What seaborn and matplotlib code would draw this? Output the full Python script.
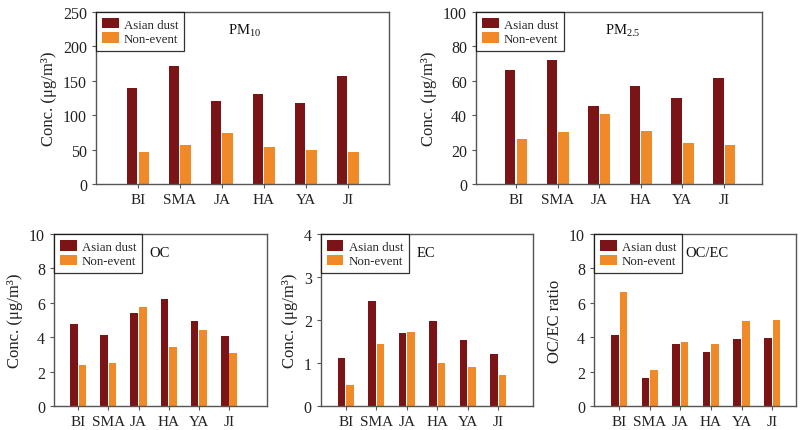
import matplotlib
matplotlib.use("Agg")
import matplotlib.pyplot as plt
import seaborn as sns
import pandas as pd

sites = ["BI", "SMA", "JA", "HA", "YA", "JI"]
series_names = ["Asian dust", "Non-event"]

pm10_dust = [140, 172, 120, 130, 117, 157]
pm10_non = [46, 56, 74, 53, 50, 46]
pm25_dust = [66, 72, 45.5, 57, 50, 61.5]
pm25_non = [26, 30, 40.5, 31, 23.5, 22.5]
oc_dust = [4.75, 4.12, 5.38, 6.25, 4.93, 4.06]
oc_non = [2.38, 2.5, 5.77, 3.43, 4.42, 3.1]
ec_dust = [1.12, 2.45, 1.70, 1.97, 1.54, 1.22]
ec_non = [0.49, 1.45, 1.71, 1.01, 0.91, 0.72]
ratio_dust = [4.15, 1.6, 3.58, 3.12, 3.87, 3.97]
ratio_non = [6.6, 2.1, 3.75, 3.62, 4.93, 5.02]

sns.set_style("ticks")
plt.rcParams["font.family"] = ["Liberation Serif", "DejaVu Serif"]
plt.rcParams["mathtext.fontset"] = "custom"
plt.rcParams["mathtext.rm"] = "Liberation Serif"
plt.rcParams["mathtext.it"] = "Liberation Serif:italic"

DARK = "#7A1416"
ORANGE = "#F08A28"
SPINE = "#555555"

fig = plt.figure(figsize=(8, 4.31), dpi=100)

panels = [
    # rect, dust, non, ylim, yticks, ylabel, title, xlim
    ([0.120, 0.571, 0.366, 0.399], pm10_dust, pm10_non, 250, range(0, 251, 50),
     "Conc. (μg/m³)", r"PM$_{\mathrm{10}}$", (-1.0, 5.98)),
    ([0.595, 0.571, 0.3575, 0.399], pm25_dust, pm25_non, 100, range(0, 101, 20),
     "Conc. (μg/m³)", r"PM$_{\mathrm{2.5}}$", (-0.96, 5.91)),
    ([0.0675, 0.0557, 0.266, 0.399], oc_dust, oc_non, 10, range(0, 11, 2),
     "Conc. (μg/m³)", "OC", (-0.8, 6.25)),
    ([0.401, 0.0557, 0.265, 0.399], ec_dust, ec_non, 4, range(0, 5, 1),
     "Conc. (μg/m³)", "EC", (-0.82, 6.13)),
    ([0.7425, 0.0557, 0.2525, 0.399], ratio_dust, ratio_non, 10, range(0, 11, 2),
     "OC/EC ratio", "OC/EC", (-0.82, 5.78)),
]

for rect, dust, non, ymax, yticks, ylabel, title, xlim in panels:
    ax = fig.add_axes(rect)
    df = pd.DataFrame({
        "site": sites * 2,
        "value": list(dust) + list(non),
        "type": [series_names[0]] * len(sites) + [series_names[1]] * len(sites),
    })
    sns.barplot(data=df, x="site", y="value", hue="type", order=sites,
                hue_order=series_names, palette=[DARK, ORANGE], saturation=1,
                width=0.56, gap=0.1, ax=ax, linewidth=0, errorbar=None)
    ax.set_xlim(*xlim)
    ax.set_ylim(0, ymax)
    ax.set_yticks(list(yticks))
    ax.set_xlabel("")
    ax.set_ylabel(ylabel, fontsize=12, color="#222222", labelpad=4)
    ax.tick_params(axis="y", labelsize=11.5)
    ax.tick_params(axis="x", labelsize=11)
    ax.tick_params(axis="both", colors=SPINE, labelcolor="#222222",
                   length=3, width=0.8, direction="out")
    for s in ax.spines.values():
        s.set_visible(True)
        s.set_color(SPINE)
        s.set_linewidth(1.0)
    leg = ax.legend(loc="upper left", bbox_to_anchor=(0, 1), borderaxespad=0,
                    frameon=True, fancybox=False, fontsize=9.3, handlelength=1.3,
                    handleheight=0.9, handletextpad=0.4, labelspacing=0.15,
                    borderpad=0.45)
    leg.get_frame().set_edgecolor("black")
    leg.get_frame().set_linewidth(0.9)
    ax.text(0.45, 0.895, title, transform=ax.transAxes, fontsize=10.5,
            ha="left", va="center", color="#111111")

fig.savefig("out.png", dpi=100, facecolor="white")
